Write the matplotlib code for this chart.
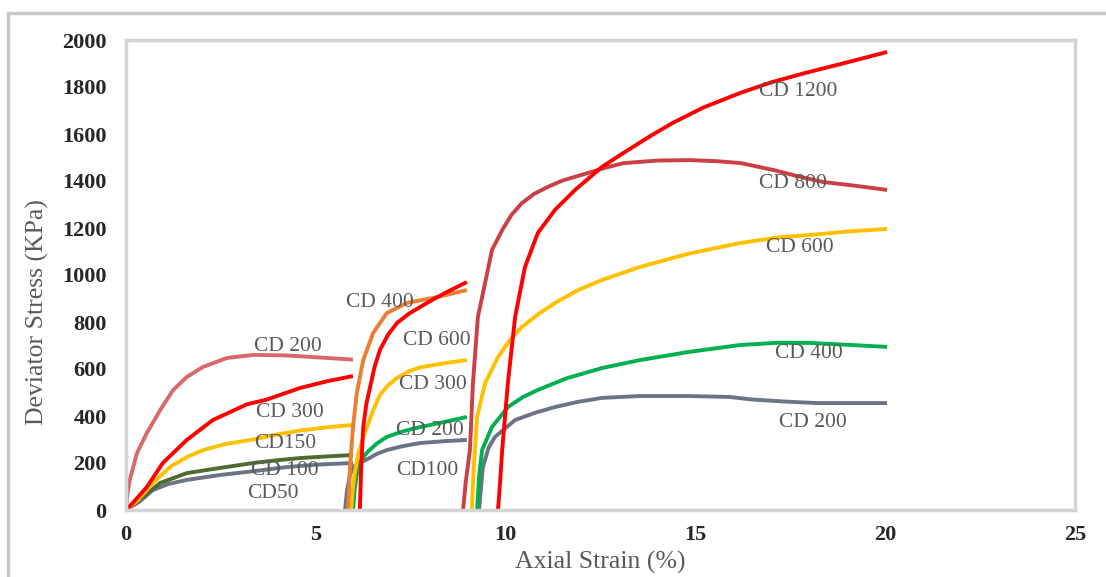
import matplotlib.pyplot as plt
from matplotlib.patches import Rectangle

# ---- data (strain %, deviator stress kPa) ----
# first set (starts at 0 %)
g1_cd200_x = [0, 0.03, 0.1, 0.29, 0.55, 0.9, 1.24, 1.6, 2.03, 2.66, 3.35, 4.2, 5.0, 5.98]
g1_cd200_y = [0, 60, 128, 243, 328, 425, 510, 566, 609, 647, 660, 658, 650, 640]
g1_cd300_x = [0, 0.18, 0.55, 0.97, 1.6, 2.29, 3.19, 3.71, 4.58, 5.3, 5.98]
g1_cd300_y = [0, 30, 98, 200, 298, 383, 450, 470, 519, 548, 570]
g1_cd150_x = [0, 0.3, 0.71, 1.16, 1.6, 2.03, 2.6, 3.35, 4.0, 4.58, 5.3, 5.98]
g1_cd150_y = [0, 40, 115, 183, 225, 255, 280, 300, 322, 338, 352, 362]
g1_cd100_x = [0, 0.4, 0.9, 1.6, 2.48, 3.35, 4.0, 4.58, 5.3, 5.98]
g1_cd100_y = [0, 50, 115, 157, 179, 200, 212, 221, 228, 234]
g1_cd50_x = [0, 0.35, 0.71, 1.1, 1.6, 2.48, 3.35, 4.2, 5.0, 5.98]
g1_cd50_y = [0, 35, 85, 110, 128, 149, 165, 182, 193, 200]

# second set (starts near 6 %)
g2_cd400_x = [5.85, 5.9, 5.98, 6.08, 6.25, 6.51, 6.87, 7.4, 8.19, 8.98]
g2_cd400_y = [0, 180, 353, 498, 638, 753, 838, 881, 906, 936]
g2_cd600_x = [6.16, 6.2, 6.25, 6.33, 6.43, 6.55, 6.69, 6.9, 7.14, 7.45, 7.75, 8.1, 8.46, 8.98]
g2_cd600_y = [0, 200, 353, 450, 523, 610, 681, 745, 796, 835, 864, 897, 928, 970]
g2_cd300_x = [5.93, 5.97, 6.03, 6.12, 6.23, 6.35, 6.5, 6.69, 6.9, 7.14, 7.45, 7.75, 8.4, 8.98]
g2_cd300_y = [0, 80, 160, 240, 300, 353, 420, 490, 530, 562, 590, 607, 625, 638]
g2_cd200_x = [5.98, 6.02, 6.08, 6.15, 6.25, 6.35, 6.6, 6.87, 7.3, 7.75, 8.4, 8.98]
g2_cd200_y = [0, 80, 150, 200, 225, 245, 282, 311, 335, 353, 375, 396]
g2_cd100_x = [5.77, 5.82, 5.9, 6.0, 6.12, 6.25, 6.4, 6.6, 6.87, 7.3, 7.75, 8.4, 8.98]
g2_cd100_y = [0, 80, 150, 185, 200, 208, 220, 238, 255, 272, 285, 293, 298]

# third set (starts near 9-10 %)
g3_cd800_x = [8.88, 8.95, 9.06, 9.14, 9.27, 9.46, 9.64, 9.91, 10.15, 10.43, 10.75, 11.1, 11.5,
              12.0, 12.6, 13.1, 14.0, 14.86, 15.6, 16.2, 17.05, 17.7, 18.36, 19.2, 20.05]
g3_cd800_y = [0, 120, 255, 540, 821, 966, 1106, 1191, 1255, 1306, 1345, 1374, 1402,
              1426, 1455, 1476, 1487, 1489, 1484, 1476, 1447, 1420, 1396, 1380, 1362]
g3_cd1200_x = [9.8, 9.86, 9.91, 10.06, 10.25, 10.51, 10.85, 11.3, 11.83, 12.54, 13.1, 13.8,
               14.4, 15.2, 16.17, 17.0, 17.9, 19.0, 20.05]
g3_cd1200_y = [0, 130, 255, 540, 821, 1034, 1179, 1277, 1362, 1460, 1519, 1590,
               1647, 1712, 1774, 1820, 1860, 1905, 1949]
g3_cd600_x = [9.11, 9.16, 9.25, 9.46, 9.8, 10.1, 10.43, 10.85, 11.3, 11.9, 12.54, 13.54,
              14.8, 16.17, 17.2, 18.0, 19.0, 20.05]
g3_cd600_y = [0, 180, 396, 540, 651, 720, 779, 832, 881, 935, 979, 1034,
              1090, 1136, 1160, 1170, 1185, 1196]
g3_cd400_x = [9.25, 9.3, 9.38, 9.64, 10.06, 10.45, 10.85, 11.6, 12.54, 13.54, 14.8, 16.17,
              17.2, 18.0, 19.0, 20.05]
g3_cd400_y = [0, 140, 255, 353, 438, 480, 511, 560, 604, 638, 672, 702,
              712, 711, 703, 694]
g3_cd200_x = [9.3, 9.4, 9.55, 9.72, 10.25, 10.8, 11.3, 11.9, 12.54, 13.54, 14.8, 15.9, 16.5,
              17.3, 18.2, 19.0, 20.05]
g3_cd200_y = [0, 180, 265, 311, 383, 415, 438, 460, 477, 485, 485, 481, 470,
              462, 455, 455, 455]

# curve labels: text, x, y
label_text = ["CD 200", "CD 300", "CD150", "CD 100", "CD50",
              "CD 400", "CD 600", "CD 300", "CD 200", "CD100",
              "CD 1200", "CD 800", "CD 600", "CD 400", "CD 200"]
label_x = [4.27, 4.32, 4.19, 4.19, 3.87,
           6.69, 8.19, 8.09, 8.0, 7.93,
           17.7, 17.57, 17.75, 18.0, 18.1]
label_y = [694, 417, 285, 170, 72,
           885, 723, 532, 340, 170,
           1779, 1391, 1119, 668, 374]

rose = '#d9686c'
brick = '#cc3f45'
red = '#ff0000'
yellow = '#ffc000'
olive = '#4e6b30'
slate = '#6b7384'
orange = '#ed7d31'
green = '#00b050'

W, H = 1106, 577
fig = plt.figure(figsize=(W / 100, H / 100), dpi=100)
fig.patches.append(Rectangle((8 / W, -0.1), 2, (H - 13) / H + 0.1, transform=fig.transFigure,
                             fill=False, edgecolor='#c8c8c8', linewidth=2.5))
ax = fig.add_axes([126 / W, (H - 510) / H, (1075 - 126) / W, (510 - 40) / H])

lw = 2.8
series = [
    (g1_cd50_x, g1_cd50_y, slate), (g1_cd100_x, g1_cd100_y, olive),
    (g1_cd150_x, g1_cd150_y, yellow), (g1_cd300_x, g1_cd300_y, red),
    (g1_cd200_x, g1_cd200_y, rose),
    (g2_cd100_x, g2_cd100_y, slate), (g2_cd200_x, g2_cd200_y, green),
    (g2_cd300_x, g2_cd300_y, yellow), (g2_cd400_x, g2_cd400_y, orange),
    (g2_cd600_x, g2_cd600_y, red),
    (g3_cd200_x, g3_cd200_y, slate), (g3_cd400_x, g3_cd400_y, green),
    (g3_cd600_x, g3_cd600_y, yellow), (g3_cd800_x, g3_cd800_y, brick),
    (g3_cd1200_x, g3_cd1200_y, red),
]
for xs, ys, c in series:
    ax.plot(xs, ys, color=c, linewidth=lw, solid_capstyle='butt', solid_joinstyle='round')

for t, x, y in zip(label_text, label_x, label_y):
    ax.text(x, y, t, ha='center', va='center', fontsize=15.5,
            family='Liberation Serif', color='#595959')

ax.set_xlim(0, 25)
ax.set_ylim(0, 2000)
ax.set_xticks(range(0, 26, 5))
ax.set_yticks(range(0, 2001, 200))
ax.tick_params(length=0, labelsize=16, labelcolor='#262626')
ax.tick_params(axis='y', pad=14)
ax.tick_params(axis='x', pad=11)
for lab in ax.get_xticklabels() + ax.get_yticklabels():
    lab.set_family('Liberation Serif')
    lab.set_fontweight('bold')
for s in ax.spines.values():
    s.set_color('#d4d4d4')
    s.set_linewidth(2.5)

# the reference crops this label at the bottom edge; keep it just inside
fig.text(600 / W, 3 / H, 'Axial Strain (%)', ha='center', va='bottom',
         fontsize=18.5, family='Liberation Serif', color='#595959')
fig.text(37 / W, (H - 312) / H, 'Deviator Stress (KPa)', ha='center', va='center',
         rotation=90, fontsize=18.5, family='Liberation Serif', color='#595959')

fig.savefig('out.png', dpi=100)
